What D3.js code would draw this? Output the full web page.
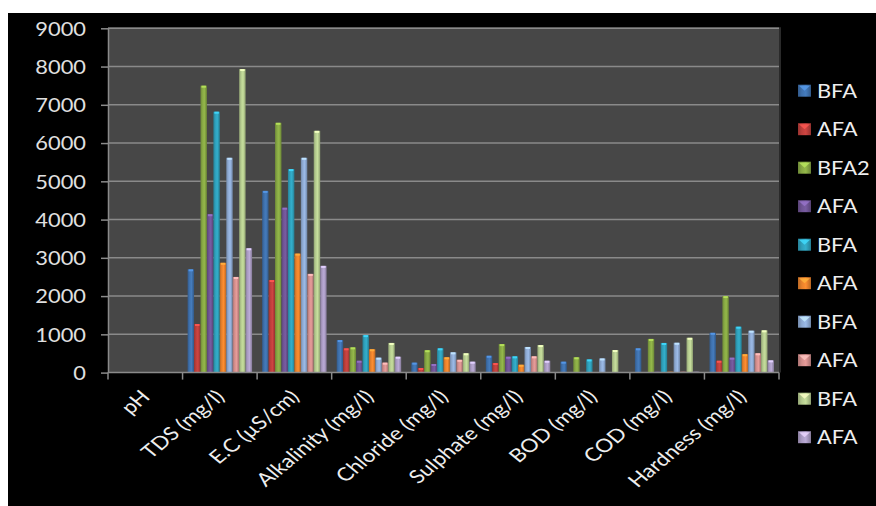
<!DOCTYPE html>
<html><head><meta charset="utf-8">
<script src="https://cdn.jsdelivr.net/npm/d3@7"></script>
<style>html,body{margin:0;padding:0;background:#fff;} svg{display:block}</style>
</head><body>
<script>
// ---- data ----
const categories = ["pH","TDS (mg/l)","E.C (µS/cm)","Alkalinity (mg/l)","Chloride (mg/l)","Sulphate (mg/l)","BOD (mg/l)","COD (mg/l)","Hardness (mg/l)"];
const seriesNames = ["BFA","AFA","BFA2","AFA","BFA","AFA","BFA","AFA","BFA","AFA"];
const seriesColors = ["#3f71ad","#bd3f3c","#87a844","#6f5494","#2fa0bb","#e9822c","#8fabd4","#d48f8d","#b6cc90","#ab9cc4"];
const bfaBlue       = [7.5, 2700, 4750, 850, 260, 440, 285, 635, 1040];
const afaRed        = [7.8, 1270, 2420, 635, 120, 250, 0, 0, 310];
const bfa2Green     = [7.4, 7500, 6530, 660, 585, 745, 400, 880, 2000];
const afaPurple     = [7.9, 4140, 4310, 310, 225, 415, 0, 25, 390];
const bfaAqua       = [7.3, 6820, 5320, 980, 635, 425, 345, 775, 1200];
const afaOrange     = [7.7, 2870, 3110, 610, 400, 205, 0, 25, 480];
const bfaLightBlue  = [7.2, 5615, 5615, 390, 530, 670, 370, 780, 1095];
const afaPink       = [7.6, 2500, 2580, 260, 335, 425, 0, 25, 505];
const bfaLightGreen = [7.4, 7935, 6320, 775, 505, 720, 590, 910, 1105];
const afaLavender   = [7.8, 3250, 2790, 415, 285, 310, 0, 25, 320];
const yTicks = [0,1000,2000,3000,4000,5000,6000,7000,8000,9000];

const seriesValues = [bfaBlue, afaRed, bfa2Green, afaPurple, bfaAqua, afaOrange, bfaLightBlue, afaPink, bfaLightGreen, afaLavender];

// ---- layout ----
const W = 876, H = 506;
const plotL = 108, plotR = 779, plotT = 28.3, plotB = 372.6;
const FONT = "Lato, 'Open Sans', sans-serif";
const SX = 1.15;

const svg = d3.select("body").append("svg").attr("width", W).attr("height", H);
svg.append("rect").attr("width", W).attr("height", H).attr("fill", "#fff");
svg.append("rect").attr("x", 8).attr("y", 13).attr("width", W - 8).attr("height", H - 13).attr("fill", "#000");

const x0 = d3.scaleBand().domain(categories).range([plotL, plotR]).paddingInner(0).paddingOuter(0);
const x1 = d3.scaleBand().domain(d3.range(seriesNames.length)).range([0, x0.bandwidth()]).paddingInner(0).paddingOuter(0.78);
const y = d3.scaleLinear().domain([0, 9000]).range([plotB, plotT]);

// gradients
const defs = svg.append("defs");
seriesColors.forEach((c, i) => {
  const g = defs.append("linearGradient").attr("id", "g" + i).attr("x1", 0).attr("x2", 1).attr("y1", 0).attr("y2", 0);
  const base = d3.color(c);
  g.append("stop").attr("offset", 0).attr("stop-color", base.darker(0.6));
  g.append("stop").attr("offset", 0.3).attr("stop-color", base);
  g.append("stop").attr("offset", 0.6).attr("stop-color", base.brighter(0.25));
  g.append("stop").attr("offset", 1).attr("stop-color", base.darker(0.7));
});

// plot area
svg.append("rect").attr("x", plotL).attr("y", plotT - 1).attr("width", plotR - plotL).attr("height", plotB - plotT + 1).attr("fill", "#474747");
svg.append("line").attr("x1", plotR + 1).attr("x2", plotR + 1).attr("y1", plotT - 1).attr("y2", plotB).attr("stroke", "#2a2a2a").attr("stroke-width", 2);

// gridlines
svg.append("g").selectAll("line").data(yTicks.slice(1)).join("line")
  .attr("x1", plotL).attr("x2", plotR).attr("y1", d => y(d)).attr("y2", d => y(d))
  .attr("stroke", "#8a8a8a").attr("stroke-width", 1.5);

// bars
const gCat = svg.append("g").selectAll("g").data(categories).join("g")
  .attr("transform", d => `translate(${x0(d)},0)`);
gCat.each(function(cat, ci) {
  const g = d3.select(this);
  seriesValues.forEach((vals, si) => {
    const v = vals[ci];
    const yt = y(v), h = plotB - yt;
    if (h <= 0) return;
    g.append("rect").attr("x", x1(si)).attr("y", yt).attr("width", x1.bandwidth()).attr("height", h)
      .attr("fill", `url(#g${si})`);
    if (h > 3) {
      g.append("rect").attr("x", x1(si) + 1).attr("y", yt).attr("width", x1.bandwidth() - 2).attr("height", 2)
        .attr("fill", d3.color(seriesColors[si]).brighter(0.8));
    }
  });
});

// y axis
const yAxis = svg.append("g").attr("transform", `translate(${plotL},0)`)
  .call(d3.axisLeft(y).tickValues(yTicks).tickFormat(d3.format("d")).tickSize(7).tickSizeOuter(0));
yAxis.select(".domain").attr("stroke", "#8a8a8a").attr("stroke-width", 1.5);
yAxis.selectAll(".tick line").attr("stroke", "#8a8a8a").attr("stroke-width", 1.5);
yAxis.selectAll(".tick text").attr("x", 0).attr("dy", "0.36em")
  .attr("transform", `translate(-22,0) scale(${SX},1)`)
  .attr("fill", "#e0e0e0").style("font-family", FONT).style("font-size", "19px");

// x axis line and ticks
const xAxis = svg.append("g");
xAxis.append("line").attr("x1", plotL).attr("x2", plotR).attr("y1", plotB).attr("y2", plotB)
  .attr("stroke", "#8a8a8a").attr("stroke-width", 1.5);
const bounds = categories.map(c => x0(c)).concat([plotR]);
xAxis.selectAll("line.t").data(bounds).join("line").attr("class", "t")
  .attr("x1", d => d).attr("x2", d => d).attr("y1", plotB).attr("y2", plotB + 7)
  .attr("stroke", "#8a8a8a").attr("stroke-width", 1.5);
xAxis.selectAll("text").data(categories).join("text")
  .attr("transform", d => `translate(${x0(d) + x0.bandwidth() / 2 + 6},398) scale(1.22,1) rotate(-45)`)
  .attr("text-anchor", "end")
  .attr("fill", "#eeeeee").style("font-family", FONT).style("font-size", "18.5px")
  .text(d => d);

// legend
const leg = svg.append("g").selectAll("g").data(seriesNames).join("g")
  .attr("transform", (d, i) => `translate(798,${90.7 + i * 38.5})`);
leg.append("rect").attr("x", 0).attr("y", -6).attr("width", 13).attr("height", 12)
  .attr("fill", (d, i) => `url(#g${i})`);
leg.append("path").attr("d", "M1,-5 L12,-5 L6.5,0 Z")
  .attr("fill", (d, i) => d3.color(seriesColors[i]).brighter(0.9)).attr("opacity", 0.8);
leg.append("text").attr("x", 0).attr("dy", "0.36em")
  .attr("transform", `translate(19,0) scale(${SX},1)`)
  .attr("fill", "#eeeeee").style("font-family", FONT).style("font-size", "19px")
  .text(d => d);
</script>
</body></html>
